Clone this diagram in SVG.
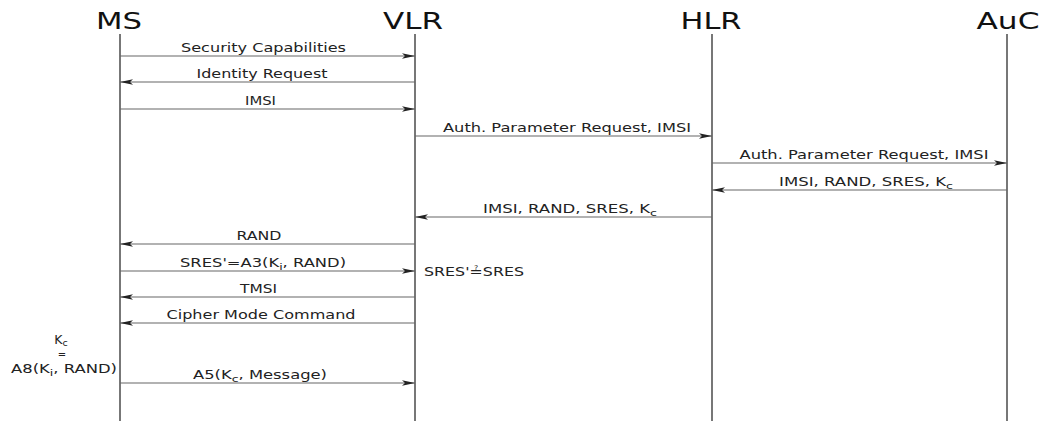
<svg xmlns="http://www.w3.org/2000/svg" width="1046" height="421" viewBox="0 0 1046 421">
<style>
.hdr{font-family:"DejaVu Sans",sans-serif;font-size:23px;fill:#111;text-anchor:middle}
.lbl{font-family:"DejaVu Sans",sans-serif;font-size:12.5px;fill:#222;text-anchor:middle}
.life{stroke:#555;stroke-width:1.6;fill:none}
.msg{stroke:#666;stroke-width:1.2;fill:none}
.sub{font-size:9.5px}
</style>
<defs>
<marker id="ah" markerUnits="userSpaceOnUse" markerWidth="14" markerHeight="8" refX="13" refY="3.5" orient="auto">
<path d="M0,0.8 L13,3.5 L0,6.2 L3,3.5 z" fill="#222"/>
</marker>
</defs>
<rect width="1046" height="421" fill="#fff"/>
<g id="MS"><text class="hdr" x="119" y="29" textLength="46" lengthAdjust="spacingAndGlyphs">MS</text><line class="life" x1="120" y1="34" x2="120" y2="421"/></g>
<g id="VLR"><text class="hdr" x="413" y="29" textLength="60" lengthAdjust="spacingAndGlyphs">VLR</text><line class="life" x1="415" y1="34" x2="415" y2="421"/></g>
<g id="HLR"><text class="hdr" x="711" y="29" textLength="61" lengthAdjust="spacingAndGlyphs">HLR</text><line class="life" x1="712" y1="34" x2="712" y2="421"/></g>
<g id="AuC"><text class="hdr" x="1008" y="29" textLength="63" lengthAdjust="spacingAndGlyphs">AuC</text><line class="life" x1="1007" y1="34" x2="1007" y2="421"/></g>
<g id="connectors">
<line class="msg" x1="120" y1="56" x2="415" y2="56" marker-end="url(#ah)"/>
<line class="msg" x1="415" y1="82" x2="120" y2="82" marker-end="url(#ah)"/>
<line class="msg" x1="120" y1="109" x2="415" y2="109" marker-end="url(#ah)"/>
<line class="msg" x1="415" y1="136" x2="712" y2="136" marker-end="url(#ah)"/>
<line class="msg" x1="712" y1="163" x2="1007" y2="163" marker-end="url(#ah)"/>
<line class="msg" x1="1007" y1="190" x2="712" y2="190" marker-end="url(#ah)"/>
<line class="msg" x1="712" y1="217" x2="415" y2="217" marker-end="url(#ah)"/>
<line class="msg" x1="415" y1="244" x2="120" y2="244" marker-end="url(#ah)"/>
<line class="msg" x1="120" y1="271" x2="415" y2="271" marker-end="url(#ah)"/>
<line class="msg" x1="415" y1="297" x2="120" y2="297" marker-end="url(#ah)"/>
<line class="msg" x1="415" y1="323" x2="120" y2="323" marker-end="url(#ah)"/>
<line class="msg" x1="120" y1="383" x2="415" y2="383" marker-end="url(#ah)"/>
</g>
<g id="labels">
<text class="lbl" x="263.5" y="52" textLength="165" lengthAdjust="spacingAndGlyphs">Security Capabilities</text>
<text class="lbl" x="262" y="78" textLength="131" lengthAdjust="spacingAndGlyphs">Identity Request</text>
<text class="lbl" x="260.5" y="105" textLength="31" lengthAdjust="spacingAndGlyphs">IMSI</text>
<text class="lbl" x="567" y="132" textLength="248" lengthAdjust="spacingAndGlyphs">Auth. Parameter Request, IMSI</text>
<text class="lbl" x="864" y="159" textLength="249" lengthAdjust="spacingAndGlyphs">Auth. Parameter Request, IMSI</text>
<text class="lbl" x="866" y="186" textLength="174" lengthAdjust="spacingAndGlyphs">IMSI, RAND, SRES, K<tspan class="sub" dy="3">c</tspan></text>
<text class="lbl" x="570" y="213" textLength="174" lengthAdjust="spacingAndGlyphs">IMSI, RAND, SRES, K<tspan class="sub" dy="3">c</tspan></text>
<text class="lbl" x="259" y="240" textLength="45" lengthAdjust="spacingAndGlyphs">RAND</text>
<text class="lbl" x="263" y="267" textLength="166" lengthAdjust="spacingAndGlyphs">SRES'=A3(K<tspan class="sub" dy="3">i</tspan><tspan dy="-3">, RAND)</tspan></text>
<text class="lbl" x="258.5" y="293" textLength="37" lengthAdjust="spacingAndGlyphs">TMSI</text>
<text class="lbl" x="261" y="319" textLength="189" lengthAdjust="spacingAndGlyphs">Cipher Mode Command</text>
<text class="lbl" x="260" y="379" textLength="134" lengthAdjust="spacingAndGlyphs">A5(K<tspan class="sub" dy="3">c</tspan><tspan dy="-3">, Message)</tspan></text>
<text class="lbl" x="474" y="276" textLength="100" lengthAdjust="spacingAndGlyphs">SRES'≟SRES</text>
<text class="lbl" x="61" y="344">K<tspan class="sub" dy="2">c</tspan></text>
<text class="lbl" x="62" y="358" style="font-size:10px">=</text>
<text class="lbl" x="64" y="373" textLength="106" lengthAdjust="spacingAndGlyphs">A8(K<tspan class="sub" dy="3">i</tspan><tspan dy="-3">, RAND)</tspan></text>
</g>
</svg>
